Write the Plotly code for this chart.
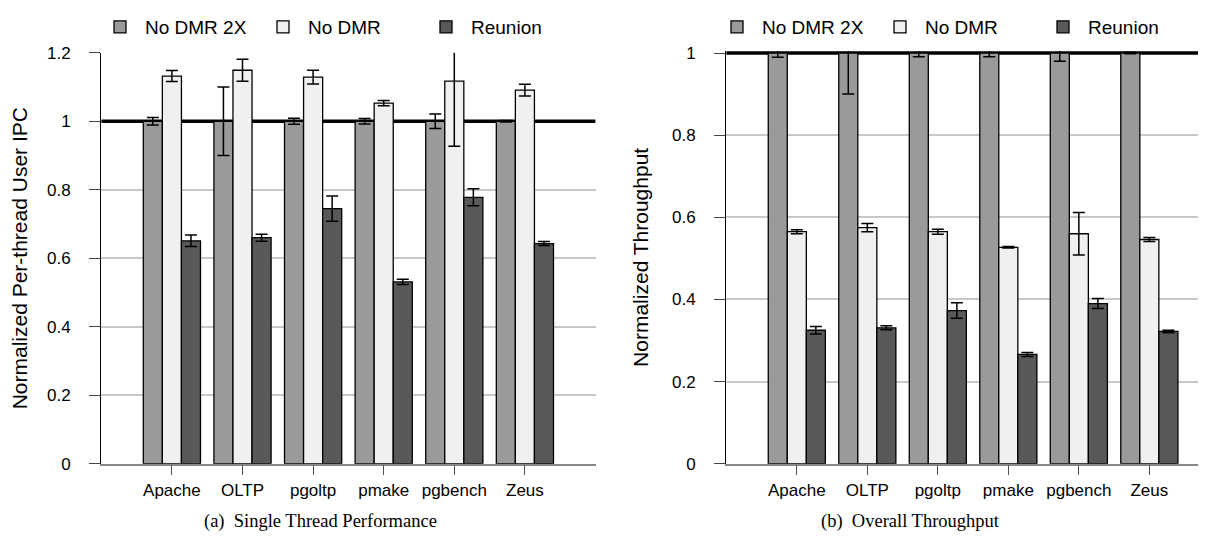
import plotly.graph_objects as go

W, H = 1211, 542

categories = ["Apache", "OLTP", "pgoltp", "pmake", "pgbench", "Zeus"]
series_names = ["No DMR 2X", "No DMR", "Reunion"]

# (a) Single thread performance: normalized per-thread user IPC
ipc_nodmr2x = [1.0, 1.0, 1.0, 1.0, 1.0, 1.0]
ipc_nodmr2x_err = [0.011, 0.1, 0.009, 0.008, 0.021, 0.002]
ipc_nodmr = [1.132, 1.149, 1.129, 1.053, 1.117, 1.091]
ipc_nodmr_err = [0.016, 0.032, 0.02, 0.008, 0.19, 0.017]
ipc_reunion = [0.651, 0.66, 0.745, 0.531, 0.778, 0.643]
ipc_reunion_err = [0.017, 0.01, 0.037, 0.008, 0.025, 0.006]

# (b) Overall throughput
thr_nodmr2x = [1.0, 1.0, 1.0, 1.0, 1.0, 1.0]
thr_nodmr2x_err = [0.01, 0.1, 0.009, 0.009, 0.02, 0.002]
thr_nodmr = [0.565, 0.575, 0.565, 0.527, 0.56, 0.546]
thr_nodmr_err = [0.005, 0.01, 0.006, 0.002, 0.052, 0.005]
thr_reunion = [0.325, 0.331, 0.373, 0.266, 0.39, 0.322]
thr_reunion_err = [0.009, 0.005, 0.019, 0.005, 0.012, 0.003]

left_ticks = [0, 0.2, 0.4, 0.6, 0.8, 1, 1.2]
left_ticktext = ["0", "0.2", "0.4", "0.6", "0.8", "1", "1.2"]
right_ticks = [0, 0.2, 0.4, 0.6, 0.8, 1]
right_ticktext = ["0", "0.2", "0.4", "0.6", "0.8", "1"]

BASELINE = 1.0
X_RANGE_LEFT = [-1, 6]
X_RANGE_RIGHT = [-1, 5.69]
Y_RANGE_LEFT = [0, 1.2]
Y_RANGE_RIGHT = [0, 1.005]

colors = ["#9a9a9a", "#f0f0f0", "#595959"]
SANS = "Liberation Sans Narrow, Liberation Sans, Arial, sans-serif"
SERIF = "Liberation Serif, Times New Roman, serif"

fig = go.Figure()

left_data = [(ipc_nodmr2x, ipc_nodmr2x_err), (ipc_nodmr, ipc_nodmr_err), (ipc_reunion, ipc_reunion_err)]
right_data = [(thr_nodmr2x, thr_nodmr2x_err), (thr_nodmr, thr_nodmr_err), (thr_reunion, thr_reunion_err)]

x_idx = list(range(len(categories)))

for i, (vals, errs) in enumerate(left_data):
    fig.add_trace(go.Bar(
        x=x_idx, y=vals, name=series_names[i],
        marker=dict(color=colors[i], line=dict(color="black", width=1.3)),
        error_y=dict(type="data", array=errs, visible=True, color="black", thickness=1.5, width=6),
        xaxis="x", yaxis="y", legend="legend",
    ))
for i, (vals, errs) in enumerate(right_data):
    fig.add_trace(go.Bar(
        x=x_idx, y=vals, name=series_names[i],
        marker=dict(color=colors[i], line=dict(color="black", width=1.3)),
        error_y=dict(type="data", array=errs, visible=True, color="black", thickness=1.5, width=6),
        xaxis="x2", yaxis="y2", legend="legend2",
    ))

Y0_PX = 455.7
ydom1 = [(H - Y0_PX) / H, (H - 44.8) / H]
ydom2 = [(H - Y0_PX) / H, (H - 43.0) / H]
xdom1 = [93.3 / W, 587.5 / W]
xdom2 = [718.3 / W, 1190 / W]

xcommon = dict(
    tickmode="array", tickvals=x_idx, ticktext=categories,
    showgrid=False, zeroline=False, showline=True, linecolor="#888888", linewidth=1.5,
    ticks="outside", ticklen=10, tickcolor="#555555", tickwidth=1.3,
    ticklabelstandoff=0,
    tickfont=dict(family=SANS, size=17, color="black"),
    fixedrange=True, automargin=False,
)
ycommon = dict(
    showgrid=True, gridcolor="#c8c8c8", gridwidth=1.5, zeroline=False,
    showline=True, linecolor="black", linewidth=1.3,
    ticks="outside", ticklen=11, tickcolor="#444444", tickwidth=1.3,
    ticklabelstandoff=15,
    tickfont=dict(family=SANS, size=17, color="black"),
    tickmode="array", automargin=False,
)

legend_common = dict(orientation="h", yanchor="top", y=1.0, xanchor="left",
                     font=dict(family=SANS, size=19, color="black"), bgcolor="rgba(0,0,0,0)",
                     itemwidth=40, entrywidth=108, entrywidthmode="pixels")

fig.update_layout(
    width=W, height=H,
    margin=dict(l=0, r=0, t=0, b=0, autoexpand=False),
    paper_bgcolor="white", plot_bgcolor="white",
    barmode="group", bargap=0.19, bargroupgap=0,
    xaxis=dict(domain=xdom1, anchor="y", range=X_RANGE_LEFT, **xcommon),
    yaxis=dict(domain=ydom1, anchor="x", range=Y_RANGE_LEFT, tickvals=left_ticks, ticktext=left_ticktext,
               title=dict(text="Normalized Per-thread User IPC", font=dict(family=SANS, size=21, color="black"), standoff=17),
               **ycommon),
    xaxis2=dict(domain=xdom2, anchor="y2", range=X_RANGE_RIGHT, **xcommon),
    yaxis2=dict(domain=ydom2, anchor="x2", range=Y_RANGE_RIGHT, tickvals=right_ticks, ticktext=right_ticktext,
                title=dict(text="Normalized Throughput", font=dict(family=SANS, size=21, color="black"), standoff=17),
                **ycommon),
    legend=dict(x=87 / W, **legend_common),
    legend2=dict(x=704 / W, **legend_common),
    showlegend=True,
)

for xr, yr, rng in (("x", "y", X_RANGE_LEFT), ("x2", "y2", X_RANGE_RIGHT)):
    fig.add_shape(type="line", xref=xr, yref=yr, x0=rng[0], x1=rng[1], y0=BASELINE, y1=BASELINE,
                  line=dict(color="black", width=3.5), layer="between")

fig.add_annotation(text="(a)  Single Thread Performance", xref="paper", yref="paper",
                   x=312 / W, y=(H - 513) / H, xanchor="center", yanchor="middle", showarrow=False,
                   font=dict(family=SERIF, size=18.5, color="black"))
fig.add_annotation(text="(b)  Overall Throughput", xref="paper", yref="paper",
                   x=902 / W, y=(H - 513) / H, xanchor="center", yanchor="middle", showarrow=False,
                   font=dict(family=SERIF, size=18.5, color="black"))

fig.write_html("out.html")
